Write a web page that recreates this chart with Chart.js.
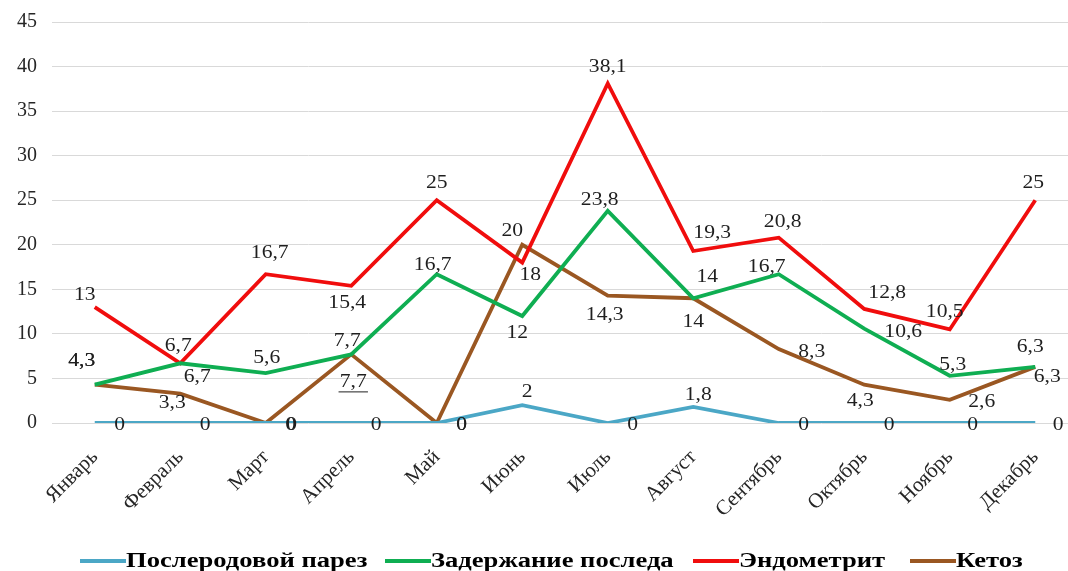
<!DOCTYPE html>
<html lang="ru">
<head>
<meta charset="utf-8">
<script src="https://cdn.jsdelivr.net/npm/chart.js@4.4.0/dist/chart.umd.min.js"></script>
<style>
  html, body { margin: 0; padding: 0; background: #fff; overflow: hidden; }
  #wrap { width: 1080px; height: 571px; }
</style>
</head>
<body>
<div id="wrap"><canvas id="myChart"></canvas></div>
<script>
// months and per-disease values, %
const aMonths = ['Январь', 'Февраль', 'Март', 'Апрель', 'Май', 'Июнь', 'Июль', 'Август', 'Сентябрь', 'Октябрь', 'Ноябрь', 'Декабрь'];
const aParez     = [0, 0, 0, 0, 0, 2, 0, 1.8, 0, 0, 0, 0];
const aPosled    = [4.3, 6.7, 5.6, 7.7, 16.7, 12, 23.8, 14, 16.7, 10.6, 5.3, 6.3];
const aEndometr  = [13, 6.7, 16.7, 15.4, 25, 18, 38.1, 19.3, 20.8, 12.8, 10.5, 25];
const aKetoz     = [4.3, 3.3, 0, 7.7, 0, 20, 14.3, 14, 8.3, 4.3, 2.6, 6.3];
const aYTicks    = [0, 5, 10, 15, 20, 25, 30, 35, 40, 45];

// where each value label sits relative to its point (px)
const shiftParez    = [[25,2],[25,2],[25,2],[25,2],[25,2],[5,-13],[25,2],[5,-12],[25,2],[25,2],[23,2],[23,2]];
const shiftPosled   = [[-13,-23],[17,14],[1,-15],[-4,-13],[-4,-9],[-5,17],[-8,-11],[14,-21],[-12,-7],[39,4],[3,-11],[-5,-20]];
const shiftEndometr = [[-10,-12],[-2,-17],[4,-21],[-4,17],[0,-17],[8,13],[0,-16],[19,-18],[4,-15],[23,-16],[-5,-17],[-2,-17]];
const shiftKetoz    = [[-13,-23],[-8,10],[26,2],[2,28],[25,2],[-10,-14],[-3,20],[0,24],[33,3],[-4,17],[32,2],[12,10]];

const fmt = v => String(v).replace('.', ',');

// value labels drawn next to every point
const valueLabels = {
    id: 'valueLabels',
    afterDatasetsDraw(chart) {
        const ctx = chart.ctx;
        ctx.save();
        ctx.font = '18px "Liberation Serif", "Times New Roman", serif';
        ctx.fillStyle = '#1f1f1f';
        ctx.strokeStyle = '#1f1f1f';
        ctx.lineWidth = 1;
        ctx.textAlign = 'center';
        ctx.textBaseline = 'middle';
        chart.data.datasets.forEach((ds, di) => {
            const meta = chart.getDatasetMeta(di);
            meta.data.forEach((pt, i) => {
                const [dx, dy] = ds.labelShift[i];
                const txt = fmt(ds.data[i]);
                ctx.save();
                ctx.translate(pt.x + dx, pt.y + dy);
                ctx.scale(1.2, 1);
                ctx.fillText(txt, 0, 0);
                if (ds.underlineAt === i) {
                    const w = ctx.measureText(txt).width;
                    ctx.beginPath();
                    ctx.moveTo(-w / 2 - 1, 9.5);
                    ctx.lineTo(w / 2 + 1, 9.5);
                    ctx.stroke();
                }
                ctx.restore();
            });
        });
        ctx.restore();
    }
};

// legend row under the month labels
const bottomKey = {
    id: 'bottomKey',
    afterDraw(chart, args, opts) {
        const ctx = chart.ctx;
        ctx.save();
        ctx.font = 'bold 20px "Liberation Serif", "Times New Roman", serif';
        ctx.textBaseline = 'middle';
        ctx.textAlign = 'left';
        chart.data.datasets.forEach((ds, i) => {
            const x = opts.starts[i];
            ctx.strokeStyle = ds.borderColor;
            ctx.lineWidth = 4;
            ctx.beginPath();
            ctx.moveTo(x, opts.y);
            ctx.lineTo(x + opts.lineLen, opts.y);
            ctx.stroke();
            ctx.save();
            ctx.translate(x + opts.lineLen, opts.y);
            ctx.scale(opts.stretch, 1);
            ctx.fillStyle = '#000';
            ctx.fillText(ds.label, 0, 1);
            ctx.restore();
        });
        ctx.restore();
    }
};

const ctx = document.getElementById('myChart').getContext('2d');
const myChart = new Chart(ctx, {
    type: 'line',
    data: {
        labels: aMonths,
        datasets: [
            { label: 'Послеродовой парез', data: aParez, borderColor: '#4ba7c6', labelShift: shiftParez },
            { label: 'Задержание последа', data: aPosled, borderColor: '#0fae52', labelShift: shiftPosled },
            { label: 'Эндометрит', data: aEndometr, borderColor: '#f00d0d', labelShift: shiftEndometr },
            { label: 'Кетоз', data: aKetoz, borderColor: '#9a5722', labelShift: shiftKetoz, underlineAt: 3 }
        ]
    },
    options: {
        responsive: true,
        maintainAspectRatio: false,
        animation: false,
        layout: { padding: { top: 22, right: 2, left: 0, bottom: 0 } },
        elements: {
            line: { borderWidth: 3.8, tension: 0, fill: false },
            point: { radius: 0, hoverRadius: 0 }
        },
        scales: {
            x: {
                offset: true,
                grid: { display: false },
                border: { display: false },
                ticks: {
                    autoSkip: false,
                    minRotation: 45,
                    maxRotation: 45,
                    padding: 14,
                    color: '#262626',
                    font: { family: '"Liberation Serif", "Times New Roman", serif', size: 21 }
                },
                afterFit: s => { s.height = 148; s.paddingLeft = 0; s.paddingRight = 0; }
            },
            y: {
                min: 0,
                max: 45,
                afterBuildTicks: s => { s.ticks = aYTicks.map(v => ({ value: v })); },
                grid: { color: '#d9d9d9', lineWidth: 1, drawTicks: false },
                border: { display: false },
                ticks: {
                    padding: 15,
                    color: '#262626',
                    font: { family: '"Liberation Serif", "Times New Roman", serif', size: 20 }
                },
                afterFit: s => { s.width = 52; s.paddingTop = 0; s.paddingBottom = 0; }
            }
        },
        plugins: {
            legend: { display: false },
            tooltip: { enabled: false },
            bottomKey: { starts: [80, 385, 693, 910], y: 561, lineLen: 46, stretch: 1.33 }
        }
    },
    plugins: [valueLabels, bottomKey]
});
</script>
</body>
</html>
